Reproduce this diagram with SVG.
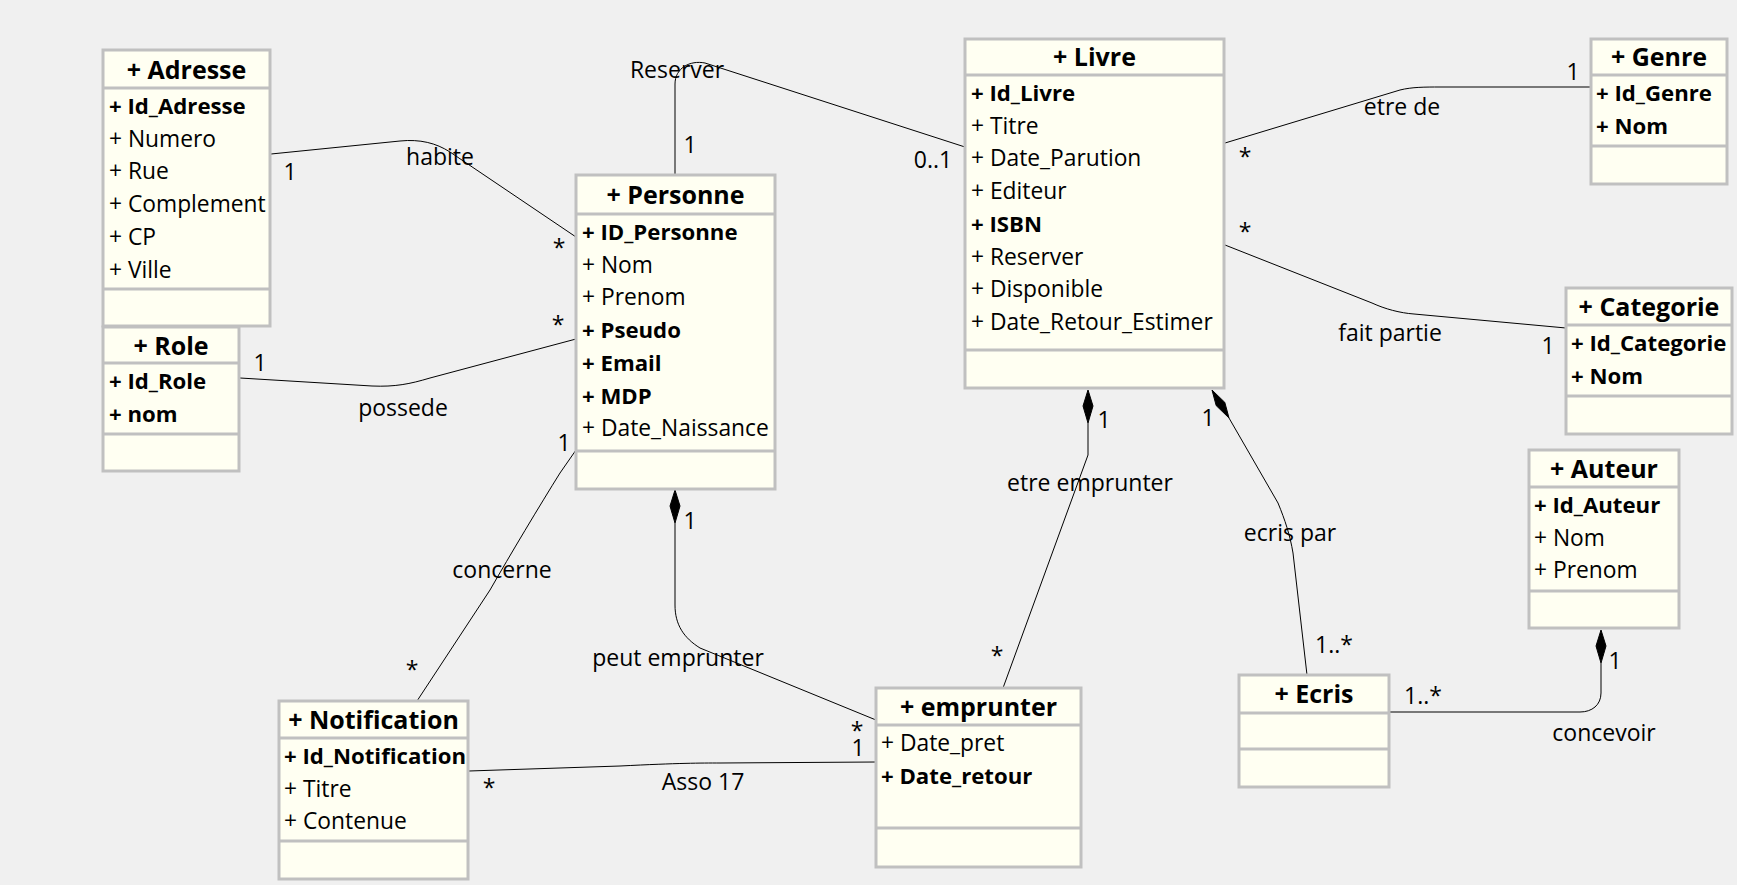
<svg xmlns="http://www.w3.org/2000/svg" width="1737" height="885" viewBox="0 0 1737 885">
<style>
.bx{fill:#FFFFF2;stroke:#C0C0C0;stroke-width:3}
.sep{stroke:#C0C0C0;stroke-width:3}
.t{font-family:"Open Sans","Noto Sans","DejaVu Sans",sans-serif;font-weight:bold;font-size:25px;fill:#000;text-anchor:middle}
.a{font-family:"Open Sans","Noto Sans","DejaVu Sans",sans-serif;font-size:22.8px;fill:#000}
.b{font-weight:bold;font-size:22.2px}
.l{font-family:"Open Sans","Noto Sans","DejaVu Sans",sans-serif;font-size:23px;fill:#000;text-anchor:middle}
.c{fill:none;stroke:#000;stroke-width:1}
.d{fill:#000;stroke:#000;stroke-width:1}
</style>
<rect width="1737" height="885" fill="#F0F0F0"/>

<g id="connectors">
  <!-- habite -->
  <path class="c" d="M271,154 L400,141 C420,139 436,143 450,152 L576,237"/>
  <!-- possede -->
  <path class="c" d="M240,378 L372,386 C395,387 410,384 430,378 L576,339"/>
  <!-- Reserver -->
  <path class="c" d="M675,175 L675,84 C675,68 690,60 705,63 L965,147"/>
  <!-- etre de -->
  <path class="c" d="M1225,143 L1400,90 C1412,87 1425,87 1440,87 L1590,87"/>
  <!-- fait partie -->
  <path class="c" d="M1225,245 L1372,303 C1385,309 1400,313 1414,314 L1566,328"/>
  <!-- etre emprunter -->
  <path class="c" d="M1088,423 L1088,455 L1003,688"/>
  <polygon class="d" points="1088,390 1093,406 1088,423 1083,406"/>
  <!-- ecris par -->
  <path class="c" d="M1229,418 L1278,503 C1285,520 1290,535 1293,553 L1307,675"/>
  <polygon class="d" points="1212,390 1224.8,402.4 1229,418 1216.2,405.6"/>
  <!-- concevoir -->
  <path class="c" d="M1601,663 L1601,693 C1601,705 1592,712 1580,712 L1389,712"/>
  <polygon class="d" points="1601,630 1606,646 1601,663 1596,646"/>
  <!-- peut emprunter -->
  <path class="c" d="M675,523 L675,605 C675,625 684,638 700,648 L876,720"/>
  <polygon class="d" points="675,490 680,506 675,523 670,506"/>
  <!-- Asso 17 -->
  <path class="c" d="M469,771 L620,766 C680,763 700,763 720,763 L876,762"/>
  <!-- concerne -->
  <path class="c" d="M576,450 L560,473 C540,505 510,555 490,590 L417,701"/>

  <!-- labels -->
  <text class="l" x="290" y="180">1</text>
  <text class="l" x="440" y="165">habite</text>
  <text class="l" x="559" y="256">*</text>
  <text class="l" x="260" y="371">1</text>
  <text class="l" x="403" y="416">possede</text>
  <text class="l" x="558" y="333">*</text>
  <text class="l" x="677" y="78">Reserver</text>
  <text class="l" x="690" y="153">1</text>
  <text class="l" x="933" y="168">0..1</text>
  <text class="l" x="1245" y="165">*</text>
  <text class="l" x="1402" y="115">etre de</text>
  <text class="l" x="1573" y="80">1</text>
  <text class="l" x="1245" y="240">*</text>
  <text class="l" x="1390" y="341">fait partie</text>
  <text class="l" x="1548" y="354">1</text>
  <text class="l" x="1104" y="428">1</text>
  <text class="l" x="1090" y="491">etre emprunter</text>
  <text class="l" x="997" y="664">*</text>
  <text class="l" x="1208" y="426">1</text>
  <text class="l" x="1290" y="541">ecris par</text>
  <text class="l" x="1334" y="653">1..*</text>
  <text class="l" x="1615" y="669">1</text>
  <text class="l" x="1423" y="704">1..*</text>
  <text class="l" x="1604" y="741">concevoir</text>
  <text class="l" x="690" y="529">1</text>
  <text class="l" x="678" y="666">peut emprunter</text>
  <text class="l" x="857" y="739">*</text>
  <text class="l" x="858" y="756">1</text>
  <text class="l" x="489" y="796">*</text>
  <text class="l" x="703" y="790">Asso 17</text>
  <text class="l" x="564" y="451">1</text>
  <text class="l" x="502" y="578">concerne</text>
  <text class="l" x="412" y="678">*</text>
</g>

<g id="Adresse">
  <rect class="bx" x="103" y="50" width="167" height="276"/>
  <line class="sep" x1="103" y1="88" x2="270" y2="88"/>
  <line class="sep" x1="103" y1="289" x2="270" y2="289"/>
  <text class="t" x="186.5" y="79">+ Adresse</text>
  <text class="a b" x="109" y="114">+ Id_Adresse</text>
  <text class="a" x="109" y="146.7">+ Numero</text>
  <text class="a" x="109" y="179.4">+ Rue</text>
  <text class="a" x="109" y="212.1">+ Complement</text>
  <text class="a" x="109" y="244.8">+ CP</text>
  <text class="a" x="109" y="277.5">+ Ville</text>
</g>

<g id="Role">
  <rect class="bx" x="103" y="327" width="136" height="144"/>
  <line class="sep" x1="103" y1="363" x2="239" y2="363"/>
  <line class="sep" x1="103" y1="434" x2="239" y2="434"/>
  <text class="t" x="171" y="355">+ Role</text>
  <text class="a b" x="109" y="389">+ Id_Role</text>
  <text class="a b" x="109" y="421.7">+ nom</text>
</g>

<g id="Personne">
  <rect class="bx" x="576" y="175" width="199" height="314"/>
  <line class="sep" x1="576" y1="214" x2="775" y2="214"/>
  <line class="sep" x1="576" y1="451" x2="775" y2="451"/>
  <text class="t" x="675.5" y="204">+ Personne</text>
  <text class="a b" x="582" y="240">+ ID_Personne</text>
  <text class="a" x="582" y="272.7">+ Nom</text>
  <text class="a" x="582" y="305.4">+ Prenom</text>
  <text class="a b" x="582" y="338.1">+ Pseudo</text>
  <text class="a b" x="582" y="370.8">+ Email</text>
  <text class="a b" x="582" y="403.5">+ MDP</text>
  <text class="a" x="582" y="436.2">+ Date_Naissance</text>
</g>

<g id="Livre">
  <rect class="bx" x="965" y="39" width="259" height="349"/>
  <line class="sep" x1="965" y1="75" x2="1224" y2="75"/>
  <line class="sep" x1="965" y1="350" x2="1224" y2="350"/>
  <text class="t" x="1094.5" y="66">+ Livre</text>
  <text class="a b" x="971" y="101">+ Id_Livre</text>
  <text class="a" x="971" y="133.7">+ Titre</text>
  <text class="a" x="971" y="166.4">+ Date_Parution</text>
  <text class="a" x="971" y="199.1">+ Editeur</text>
  <text class="a b" x="971" y="231.8">+ ISBN</text>
  <text class="a" x="971" y="264.5">+ Reserver</text>
  <text class="a" x="971" y="297.2">+ Disponible</text>
  <text class="a" x="971" y="329.9">+ Date_Retour_Estimer</text>
</g>

<g id="Genre">
  <rect class="bx" x="1591" y="39" width="136" height="145"/>
  <line class="sep" x1="1591" y1="75" x2="1727" y2="75"/>
  <line class="sep" x1="1591" y1="146" x2="1727" y2="146"/>
  <text class="t" x="1659" y="66">+ Genre</text>
  <text class="a b" x="1596" y="101">+ Id_Genre</text>
  <text class="a b" x="1596" y="133.7">+ Nom</text>
</g>

<g id="Categorie">
  <rect class="bx" x="1566" y="288" width="166" height="146"/>
  <line class="sep" x1="1566" y1="325" x2="1732" y2="325"/>
  <line class="sep" x1="1566" y1="396" x2="1732" y2="396"/>
  <text class="t" x="1649" y="316">+ Categorie</text>
  <text class="a b" x="1571" y="351">+ Id_Categorie</text>
  <text class="a b" x="1571" y="383.7">+ Nom</text>
</g>

<g id="Auteur">
  <rect class="bx" x="1529" y="450" width="150" height="178"/>
  <line class="sep" x1="1529" y1="487" x2="1679" y2="487"/>
  <line class="sep" x1="1529" y1="591" x2="1679" y2="591"/>
  <text class="t" x="1604" y="478">+ Auteur</text>
  <text class="a b" x="1534" y="513">+ Id_Auteur</text>
  <text class="a" x="1534" y="545.7">+ Nom</text>
  <text class="a" x="1534" y="578.4">+ Prenom</text>
</g>

<g id="Ecris">
  <rect class="bx" x="1239" y="675" width="150" height="112"/>
  <line class="sep" x1="1239" y1="713" x2="1389" y2="713"/>
  <line class="sep" x1="1239" y1="749" x2="1389" y2="749"/>
  <text class="t" x="1314" y="703">+ Ecris</text>
</g>

<g id="emprunter">
  <rect class="bx" x="876" y="688" width="205" height="179"/>
  <line class="sep" x1="876" y1="725" x2="1081" y2="725"/>
  <line class="sep" x1="876" y1="828" x2="1081" y2="828"/>
  <text class="t" x="978.5" y="716">+ emprunter</text>
  <text class="a" x="881" y="751">+ Date_pret</text>
  <text class="a b" x="881" y="783.7">+ Date_retour</text>
</g>

<g id="Notification">
  <rect class="bx" x="279" y="701" width="189" height="178"/>
  <line class="sep" x1="279" y1="738" x2="468" y2="738"/>
  <line class="sep" x1="279" y1="841" x2="468" y2="841"/>
  <text class="t" x="373.5" y="729">+ Notification</text>
  <text class="a b" x="284" y="764">+ Id_Notification</text>
  <text class="a" x="284" y="796.7">+ Titre</text>
  <text class="a" x="284" y="829.4">+ Contenue</text>
</g>
</svg>
